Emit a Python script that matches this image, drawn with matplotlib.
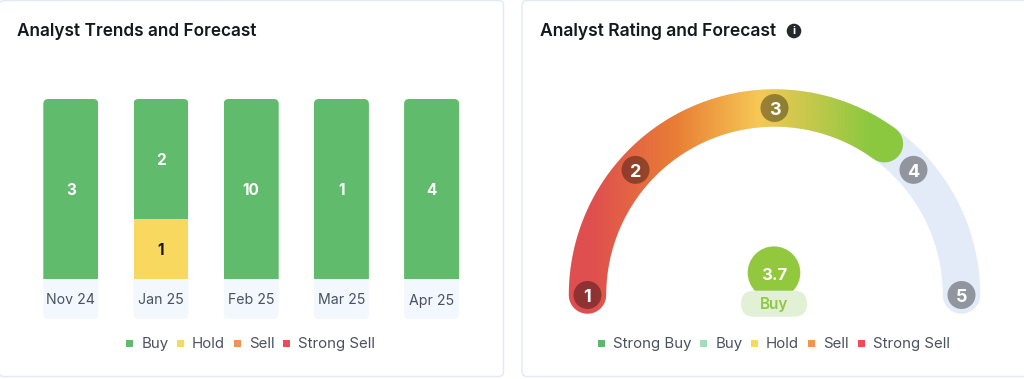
import numpy as np
import matplotlib
matplotlib.use("Agg")
import matplotlib.pyplot as plt
from matplotlib.patches import FancyBboxPatch, Circle, Rectangle, PathPatch
from matplotlib.path import Path
from matplotlib.colors import LinearSegmentedColormap

months = ["Nov 24", "Jan 25", "Feb 25", "Mar 25", "Apr 25"]
buy = [3, 2, 10, 1, 4]
hold = [0, 1, 0, 0, 0]
sell = [0, 0, 0, 0, 0]
strong_sell = [0, 0, 0, 0, 0]
rating = 3.7
rating_label = "Buy"
gauge_fill_end = 3.75
gauge_ticks = [1, 2, 3, 4, 5]
gauge_angles = [180, 138, 90, 42, 0]
left_legend = ["Buy", "Hold", "Sell", "Strong Sell"]
right_legend = ["Strong Buy", "Buy", "Hold", "Sell", "Strong Sell"]

GREEN, YELLOW, ORANGE, RED = "#61BB6D", "#F9D860", "#F4934F", "#EF4B56"
FONT = "Inter"
plt.rcParams["font.family"] = [FONT, "DejaVu Sans"]

W, H = 1024, 379
fig = plt.figure(figsize=(W / 100, H / 100), dpi=100, facecolor="white")

# overlay in pixel coordinates
bg = fig.add_axes([0, 0, 1, 1])
bg.set_xlim(0, W); bg.set_ylim(H, 0); bg.axis("off")


def rrect(x0, y0, x1, y1, r, **kw):
    p = FancyBboxPatch((x0 + r, y0 + r), x1 - x0 - 2 * r, y1 - y0 - 2 * r,
                       boxstyle=f"round,pad={r},rounding_size={r}", **kw)
    bg.add_patch(p)
    return p


rrect(-1, 0.5, 503.5, 376.5, 5, fc="white", ec="#E1E9F6", lw=1.0)
rrect(522, 0.5, 1040, 376.5, 5, fc="white", ec="#E1E9F6", lw=1.0)
bg.text(17, 31.5, "Analyst Trends and Forecast", fontsize=12.4, fontweight="semibold",
        color="#15181D", va="center", ha="left")
bg.text(540, 31.5, "Analyst Rating and Forecast", fontsize=12.6, fontweight="semibold",
        color="#15181D", va="center", ha="left")
bg.add_patch(Circle((794, 31), 7.3, fc="#26282C", ec="none"))
bg.text(794, 31, "i", color="white", fontsize=8, fontweight="bold", ha="center", va="center")

# --- stacked bars -----------------------------------------------------------
y_top, y_base = 99, 279
first = 70.8
pitch = 90.2
bw = 55
ax = fig.add_axes([0, (H - y_base) / H, 1, (y_base - y_top) / H])
ax.patch.set_alpha(0)
ax.set_xlim((0 - first) / pitch, (W - first) / pitch)
ax.set_ylim(0, 1)
ax.axis("off")
bar_w = bw / pitch
series = [(buy, GREEN), (hold, YELLOW), (sell, ORANGE), (strong_sell, RED)]
totals = np.sum([s for s, _ in series], axis=0)

for i, m in enumerate(months):
    cx = first + i * pitch
    rrect(cx - bw / 2, y_base - 8, cx + bw / 2, 319, 5, fc="#F3F7FE", ec="none")
    bg.text(cx, 300.5, m, fontsize=10.2, color="#4A5160", ha="center", va="center")

# stack from the top: buy above hold above the rest
top = np.ones(len(months))
for vals, col in series:
    share = np.array(vals) / totals
    bars = ax.bar(range(len(months)), -share, bottom=top, width=bar_w, color=col, lw=0)
    for i, (b, s) in enumerate(zip(bars, share)):
        cx = first + i * pitch
        clip = FancyBboxPatch((cx - bw / 2 + 5, H - y_base - 10), bw - 10, y_base - y_top + 5,
                              boxstyle="round,pad=5,rounding_size=5", transform=None)
        b.set_clip_path(clip)
        if s > 0:
            ax.text(i, top[i] - s / 2, str(vals[i]), ha="center", va="center_baseline",
                    fontsize=11, fontweight="bold",
                    color="#15181D" if col == YELLOW else "white")
    top = top - share

# legends
def legend(sq, tx, labels, cols):
    for a, b, l, c in zip(sq, tx, labels, cols):
        bg.add_patch(Rectangle((a - 3.5, 339.5), 7, 7, fc=c, ec="none"))
        bg.text(b, 344, l, fontsize=10.8, color="#4A5160", ha="left", va="center")


legend([129.5, 180.5, 237, 286.5], [141.5, 192, 249, 298.5], left_legend,
       [GREEN, YELLOW, ORANGE, RED])
legend([601.3, 703.7, 754.5, 811, 861], [613, 715.7, 766, 823, 873], right_legend,
       ["#5CB86A", "#A2DDBB", YELLOW, ORANGE, RED])

# --- gauge ------------------------------------------------------------------
cx, cy, R, hw = 774.5, 295, 187, 18.7


def ang(v):
    return np.radians(np.interp(v, gauge_ticks, gauge_angles))


def band(v0, v1):
    """Closed outline of an arc band with round caps."""
    t = np.linspace(ang(v0), ang(v1), 200)
    outer = np.c_[cx + (R + hw) * np.cos(t), cy - (R + hw) * np.sin(t)]
    inner = np.c_[cx + (R - hw) * np.cos(t[::-1]), cy - (R - hw) * np.sin(t[::-1])]
    s = np.linspace(0, np.pi, 40)
    ce = np.array([cx + R * np.cos(t[-1]), cy - R * np.sin(t[-1])])
    cs = np.array([cx + R * np.cos(t[0]), cy - R * np.sin(t[0])])
    cap_e = np.c_[ce[0] + hw * np.cos(t[-1] - s), ce[1] - hw * np.sin(t[-1] - s)]
    cap_s = np.c_[cs[0] + hw * np.cos(t[0] + np.pi - s), cs[1] - hw * np.sin(t[0] + np.pi - s)]
    pts = np.vstack([outer, cap_e, inner, cap_s, outer[:1]])
    return Path(pts)


bg.add_patch(PathPatch(band(1, 5), fc="#E3EAF8", ec="none"))
grad_path = PathPatch(band(1, gauge_fill_end), fc="none", ec="none")
bg.add_patch(grad_path)
cmap = LinearSegmentedColormap.from_list("g", [
    (0.00, "#DF4F4F"), (0.08, "#DF4F4F"), (0.33, "#E97F35"),
    (0.57, "#F6C855"), (0.90, "#8BC840"), (1.00, "#8BC840")])
im = bg.imshow(np.linspace(0, 1, 400)[None, :], cmap=cmap, extent=(565, 905, 320, 85),
               aspect="auto", zorder=1.5)
im.set_clip_path(grad_path)
bg.set_xlim(0, W); bg.set_ylim(H, 0)

for v in gauge_ticks:
    a = ang(v)
    px, py = cx + R * np.cos(a), cy - R * np.sin(a)
    bg.add_patch(Circle((px, py), 14, fc="black", alpha=0.36, ec="none", zorder=3))
    bg.text(px, py + 0.5, str(v), color="white", fontsize=13, fontweight="bold",
            ha="center", va="center_baseline", zorder=4)

bg.add_patch(Circle((774, 272.7), 26.3, fc="#91C83D", ec="none", zorder=3))
bg.text(774, 273.5, f"{rating}", color="white", fontsize=12, fontweight="bold",
        ha="center", va="center_baseline", zorder=5)
rrect(741, 290.7, 807, 316.7, 13, fc="#E2F0D6", ec="none", zorder=4)
bg.text(774, 305, rating_label, color="#8FC93F", fontsize=11, fontweight="semibold",
        ha="center", va="center", zorder=5)

fig.savefig("out.png", dpi=100)
